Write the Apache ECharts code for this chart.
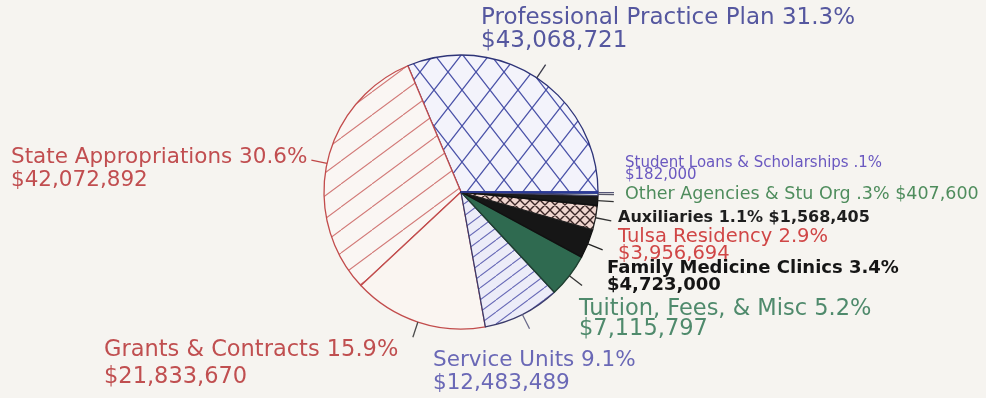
<!DOCTYPE html>
<html>
<head>
<meta charset="utf-8">
<script src="https://cdn.jsdelivr.net/npm/echarts@6/dist/echarts.min.js"></script>
<style>
html,body{margin:0;padding:0;background:#f6f4f0;}
#chart{width:986px;height:398px;}
</style>
</head>
<body>
<div id="chart"></div>
<script>
// ---- data ----
const categories = ['Professional Practice Plan', 'State Appropriations', 'Grants & Contracts', 'Service Units',
  'Tuition, Fees, & Misc', 'Family Medicine Clinics', 'Tulsa Residency', 'Auxiliaries',
  'Other Agencies & Stu Org', 'Student Loans & Scholarships'];
const amounts = [43068721, 42072892, 21833670, 12483489, 7115797, 4723000, 3956694, 1568405, 407600, 182000];
const pctLabels = ['31.3%', '30.6%', '15.9%', '9.1%', '5.2%', '3.4%', '2.9%', '1.1%', '.3%', '.1%'];

// ---- styles ----
const FONT = 'DejaVu Sans';
function hatch(w, h, bg, line, lw, mode) {
  const c = document.createElement('canvas');
  c.width = w; c.height = h;
  const g = c.getContext('2d');
  g.fillStyle = bg; g.fillRect(0, 0, w, h);
  g.strokeStyle = line; g.lineWidth = lw;
  g.beginPath();
  for (let k = -1; k <= 1; k++) {
    if (mode === 'fwd' || mode === 'cross') { g.moveTo(k * w, h); g.lineTo(k * w + w, 0); }
    if (mode === 'back' || mode === 'cross') { g.moveTo(k * w, 0); g.lineTo(k * w + w, h); }
  }
  g.stroke();
  return { image: c, repeat: 'repeat' };
}
const fills = [
  hatch(28, 36, '#f3f3fb', '#4a52a8', 1.3, 'cross'),
  hatch(31, 23, '#faf6f3', '#d27a78', 1.1, 'fwd'),
  '#faf5f1',
  hatch(16, 12, '#ececf8', '#6a6cb8', 1.1, 'fwd'),
  '#2f6a50',
  '#161616',
  hatch(10, 10, '#f0d6cf', '#3a2626', 1.4, 'cross'),
  '#1a1a1a',
  '#e6eee8',
  '#3a4aa8'
];
const borders = ['#2e3478', '#c24c4c', '#c24c4c', '#3a3a6a', '#1f3f30', '#111', '#222', '#111', '#446', '#2a3a98'];
const tickColors = ['#3a3a4a', '#c04848', '#4a4a4a', '#6a6a8a', '#333', '#222', '#333', '#333', '#556', '#557'];
const labelColors = ['#55579f', '#c14e50', '#c04f50', '#6a68b6', '#4f8a6c', '#151515', '#d04646', '#1e1e1e', '#4e8c5c', '#6a58c0'];
const labelSizes = [23, 21.5, 22.5, 21.5, 22.5, 18, 19.5, 16, 17.5, 15];
const labelWeights = ['normal', 'normal', 'normal', 'normal', 'normal', 'bold', 'normal', 'bold', 'normal', 'normal'];
const labelLineHeights = [23, 23, 27, 23, 20, 17, 17, 18, 18, 12];
const singleLine = [false, false, false, false, false, false, false, true, true, false];
const labelPos = [[481, 7], [11, 146], [104, 337], [433, 349], [579, 299], [607, 260], [618, 228], [618, 209], [625, 185], [625, 157]];

const mainData = categories.map((n, i) => ({
  name: n,
  value: amounts[i],
  itemStyle: { color: fills[i], borderColor: borders[i], borderWidth: 1.3 },
  label: { color: labelColors[i], fontSize: labelSizes[i], fontWeight: labelWeights[i], lineHeight: labelLineHeights[i] }
}));
const tickData = categories.map((n, i) => ({
  name: n,
  value: amounts[i],
  labelLine: { lineStyle: { color: tickColors[i] } }
}));

const chart = echarts.init(document.getElementById('chart'), null, { renderer: 'canvas' });
chart.setOption({
  backgroundColor: '#f6f4f0',
  animation: false,
  series: [
    {
      type: 'pie',
      center: [461, 192],
      radius: 137,
      startAngle: 0,
      clockwise: false,
      avoidLabelOverlap: false,
      silent: true,
      data: mainData,
      label: {
        show: true,
        position: 'outside',
        fontFamily: FONT,
        formatter: p => categories[p.dataIndex] + ' ' + pctLabels[p.dataIndex] +
          (singleLine[p.dataIndex] ? ' ' : '\n') + '$' + amounts[p.dataIndex].toLocaleString('en-US')
      },
      labelLine: { show: false },
      labelLayout: p => ({ x: labelPos[p.dataIndex][0], y: labelPos[p.dataIndex][1], align: 'left', verticalAlign: 'top' })
    },
    {
      type: 'pie',
      center: [461, 192],
      radius: 137,
      startAngle: 0,
      clockwise: false,
      avoidLabelOverlap: false,
      silent: true,
      z: 3,
      itemStyle: { color: 'rgba(0,0,0,0)', borderWidth: 0 },
      data: tickData,
      label: { show: true, position: 'outside', formatter: ' ', fontSize: 1, color: 'rgba(0,0,0,0)' },
      labelLine: { show: true, length: 16, length2: 0, lineStyle: { width: 1.3 } }
    }
  ]
});
</script>
</body>
</html>
